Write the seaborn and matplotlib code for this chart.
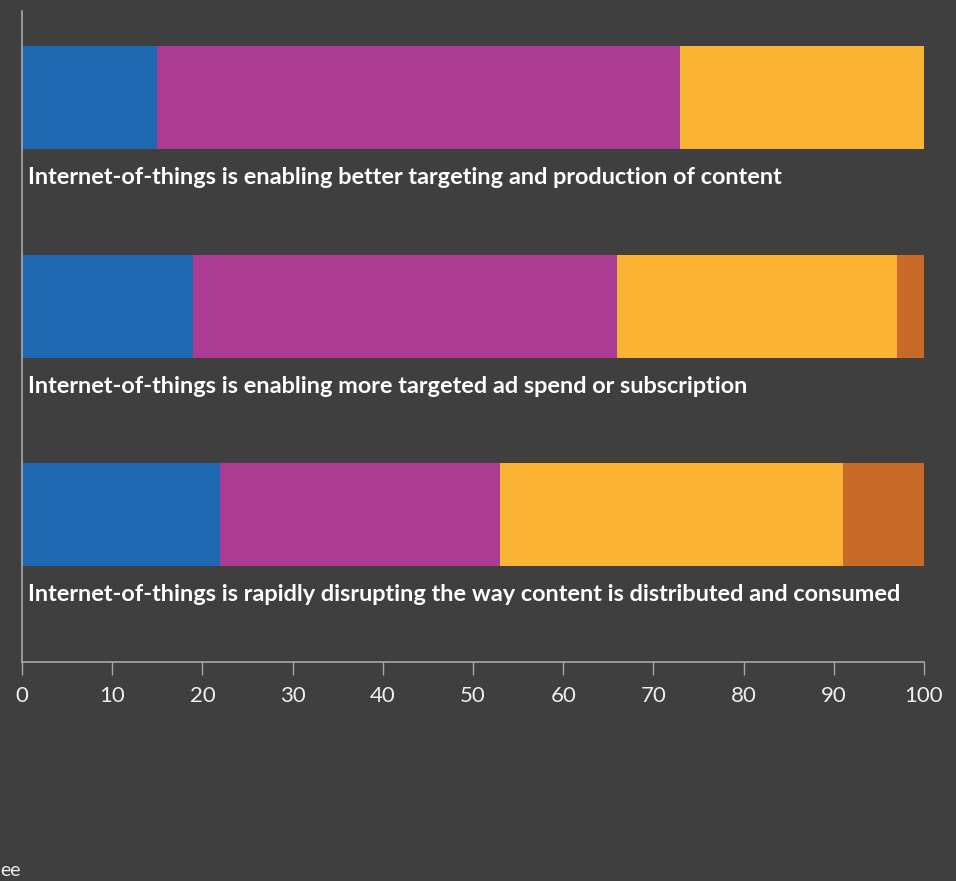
import matplotlib
matplotlib.use("Agg")
import matplotlib.pyplot as plt
import numpy as np
import pandas as pd
import seaborn as sns

# Survey statements and the share of answers in each response band (percent)
statements = [
    "Internet-of-things is enabling better targeting and production of content",
    "Internet-of-things is enabling more targeted ad spend or subscription",
    "Internet-of-things is rapidly disrupting the way content is distributed and consumed",
]
band_1 = [15, 19, 22]
band_2 = [58, 47, 31]
band_3 = [27, 31, 38]
band_4 = [0, 3, 9]

band_colors = ["#1F69B3", "#AC3C93", "#FBB333", "#C86A28"]
bg = "#3F3F3F"
axis_col = "#A8A8A8"

sns.set_theme(style="white")
plt.rcParams["font.family"] = ["Lato", "DejaVu Sans"]

df = pd.DataFrame({"statement": statements, "b1": band_1, "b2": band_2,
                   "b3": band_3, "b4": band_4})
cols = ["b1", "b2", "b3", "b4"]
cum = df[cols].cumsum(axis=1)

fig = plt.figure(figsize=(9.56, 8.81), dpi=100, facecolor=bg)
ax = fig.add_axes([22 / 956, 1 - 662 / 881, (924 - 22) / 956, 651 / 881])
ax.set_facecolor(bg)

# Stacked bars: draw the longest cumulative segment first, shorter ones on top
for col, color in reversed(list(zip(cols, band_colors))):
    sns.barplot(data=cum.assign(statement=df["statement"]), x=col, y="statement",
                orient="h", color=color, width=0.494, saturation=1,
                linewidth=0, ax=ax)

ax.set_xlim(0, 100)
ax.set_ylim(2.707, -0.415)
ax.set_xticks(np.arange(0, 101, 10))
ax.set_yticks([])
ax.set_xlabel("")
ax.set_ylabel("")

for i, text in enumerate(statements):
    ax.text(0.65, i + 0.384, text, color="white", fontsize=16.9,
            fontweight="bold", ha="left", va="center")

for s in ["top", "right"]:
    ax.spines[s].set_visible(False)
for s in ["left", "bottom"]:
    ax.spines[s].set_color(axis_col)
    ax.spines[s].set_linewidth(1.2)

ax.tick_params(axis="x", bottom=True, colors=axis_col, length=9.5, width=1,
               direction="out", pad=8, labelsize=16, labelcolor="#EEEEEE")
for lab in ax.get_xticklabels():
    lab.set_fontweight("normal")

fig.text(0.0, 1 - 871 / 881, "ee", color="#EEEEEE", fontsize=14,
         fontweight="normal", ha="left", va="center")

fig.savefig("out.png", dpi=100, facecolor=bg)
